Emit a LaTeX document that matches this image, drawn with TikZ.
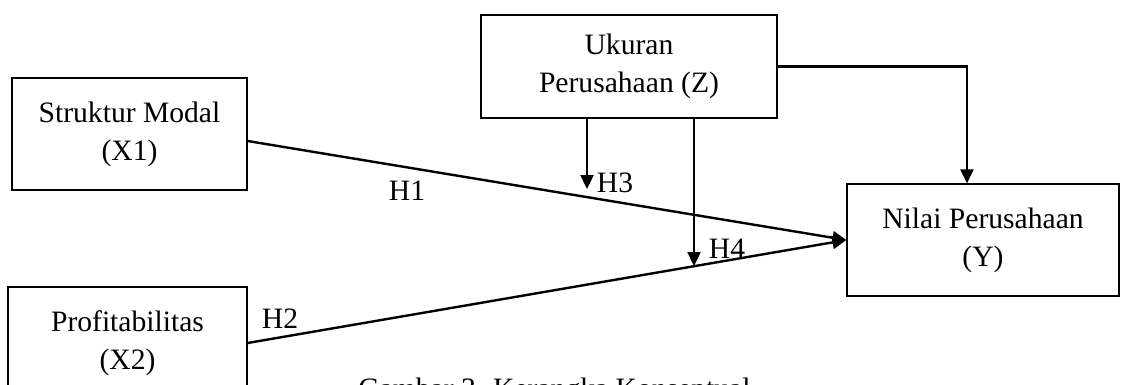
\documentclass[tikz,border=0pt]{standalone}
\usepackage{fontspec}
\setmainfont{Liberation Serif}
\usetikzlibrary{arrows.meta}

\begin{document}
\begin{tikzpicture}[x=0.5pt,y=-0.5pt,
  box/.style={draw,line width=0.6pt,align=center,inner sep=0pt,
    font=\fontsize{14.8}{19}\selectfont},
  link/.style={line width=1.2pt,-{Triangle[length=7pt,width=6.5pt]}},
  hyp/.style={inner sep=0pt,font=\fontsize{14.8}{19}\selectfont}]
  \clip (0,0) rectangle (1124,385);
  % instantiate nodes
  \node[box,minimum width=117.5pt,minimum height=56pt] (X1) at (129.5,134) {Struktur Modal\\(X1)};
  \node[box,minimum width=119.5pt,minimum height=56pt] (X2) at (127.5,343) {Profitabilitas\\(X2)};
  \node[box,minimum width=148pt,minimum height=51.5pt] (Z) at (629,66.5) {Ukuran\\Perusahaan (Z)};
  \node[box,minimum width=136pt,minimum height=56pt] (Y) at (983,240) {Nilai Perusahaan\\(Y)};
  \coordinate (h3) at (587,189);
  \coordinate (h4) at (694,266);
  % direct paths
  \draw[link] ([yshift=-3.5pt]X1.east) -- (Y.west);
  \draw[link] (X2.east) -- (Y.west);
  \draw[link] (Z.east) -| ([xshift=-8pt]Y.north);
  % moderation
  \draw[link] (h3 |- Z.south) -- (h3);
  \draw[link] (h4 |- Z.south) -- (h4);
  % hypothesis labels
  \node[hyp] (H1) at (407,191) {H1};
  \node[hyp] (H2) at (280,319) {H2};
  \node[hyp] (H3) at (615,183) {H3};
  \node[hyp] (H4) at (727,249) {H4};
  \node[hyp,anchor=base west] (cap) at (358,398) {Gambar 3. Kerangka Konseptual};
\end{tikzpicture}
\end{document}
